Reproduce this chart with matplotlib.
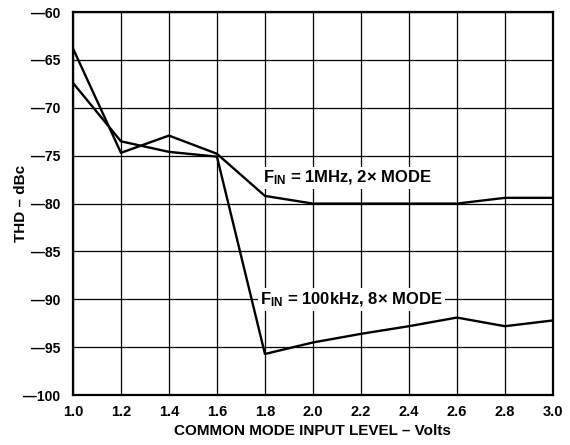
import matplotlib
matplotlib.use("Agg")
import matplotlib.pyplot as plt

# dados
volts = [1.0, 1.2, 1.4, 1.6, 1.8, 2.0, 2.2, 2.4, 2.6, 2.8, 3.0]
thd_1mhz = [-63.8, -74.7, -72.9, -74.8, -79.2, -80.0, -80.0, -80.0, -80.0, -79.4, -79.4]
thd_100khz = [-67.4, -73.5, -74.6, -75.1, -95.7, -94.5, -93.6, -92.8, -91.9, -92.8, -92.2]
x_ticks = [1.0, 1.2, 1.4, 1.6, 1.8, 2.0, 2.2, 2.4, 2.6, 2.8, 3.0]
y_ticks = [-100, -95, -90, -85, -80, -75, -70, -65, -60]

plt.rcParams['font.family'] = ['Liberation Sans', 'DejaVu Sans']
plt.rcParams['font.weight'] = 'bold'
plt.rcParams['mathtext.fontset'] = 'custom'
plt.rcParams['mathtext.rm'] = 'Liberation Sans:bold'
plt.rcParams['mathtext.bf'] = 'Liberation Sans:bold'
plt.rcParams['mathtext.it'] = 'Liberation Sans:bold'

fig = plt.figure(figsize=(5.7, 4.45), dpi=100)
ax = fig.add_axes([0.128, 0.112, 0.842, 0.861])

ax.plot(volts, thd_1mhz, color='black', lw=1.7, zorder=3)
ax.plot(volts, thd_100khz, color='black', lw=1.7, zorder=3)

ax.set_xlim(1.0, 3.0)
ax.set_ylim(-100, -60)
ax.set_xticks(x_ticks)
ax.set_yticks(y_ticks)
ax.set_xticklabels([f"{v:.1f}" for v in x_ticks], fontsize=10.5, fontweight='bold')
ax.set_yticklabels([f"\u2014{abs(v)}" for v in y_ticks], fontsize=10, fontweight='bold')
ax.tick_params(axis='x', length=0, pad=7)
ax.tick_params(axis='y', length=0, pad=9)
ax.grid(True, color='black', lw=0.9)
ax.set_axisbelow(True)
for s in ax.spines.values():
    s.set_linewidth(1.6)

ax.set_xlabel("COMMON MODE INPUT LEVEL \u2013 Volts", fontsize=11, fontweight='bold', labelpad=4)
ax.set_ylabel("THD \u2013 dBc", fontsize=11, fontweight='bold')
ax.yaxis.set_label_coords(-0.094, 0.5)

caixa = dict(facecolor='white', edgecolor='none', pad=1.5)
ax.text(1.79, -77.3, "F$_{\\mathrm{IN}}$ = 1MHz, 2\u00d7 MODE",
        fontsize=12, fontweight='bold', va='center', ha='left', bbox=caixa, zorder=4)
ax.text(1.78, -90.0, "F$_{\\mathrm{IN}}$ = 100kHz, 8\u00d7 MODE",
        fontsize=12, fontweight='bold', va='center', ha='left', bbox=caixa, zorder=4)

fig.savefig("out.png", dpi=100)
